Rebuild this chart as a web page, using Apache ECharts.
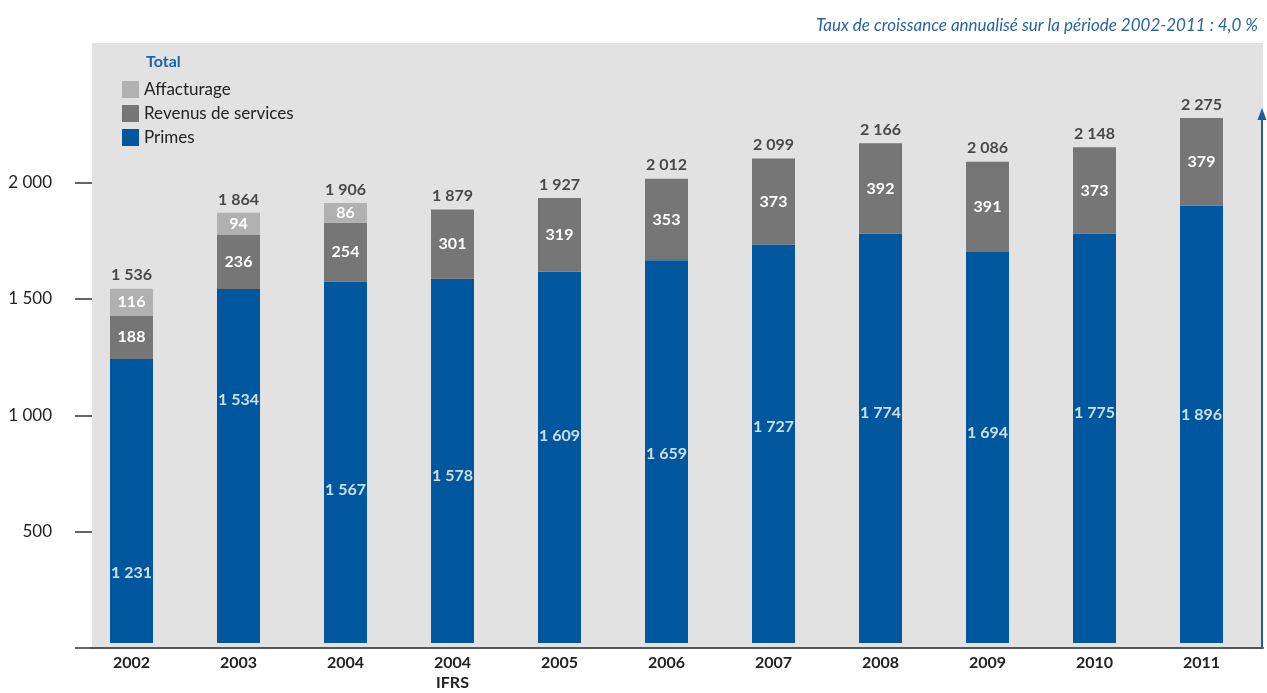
<!DOCTYPE html>
<html>
<head>
<meta charset="utf-8">
<script src="https://cdn.jsdelivr.net/npm/echarts@6/dist/echarts.min.js"></script>
<style>
html,body{margin:0;padding:0;background:#fff;}
#c{width:1267px;height:693px;}
</style>
</head>
<body>
<div id="c"></div>
<script>
const categories = ['2002','2003','2004','2004\nIFRS','2005','2006','2007','2008','2009','2010','2011'];
const primes = [1231,1534,1567,1578,1609,1659,1727,1774,1694,1775,1896];
const revenus = [188,236,254,301,319,353,373,392,391,373,379];
const affacturage = [116,94,86,null,null,null,null,null,null,null,null];
const totals = [1536,1864,1906,1879,1927,2012,2099,2166,2086,2148,2275];
// value at which the white "Primes" label is placed inside each blue bar
const primesLabelAt = [305,1052,663,726,897,820,936,996,910,996,988];
const yTicks = [0,500,1000,1500,2000];
const yLabels = [500,1000,1500,2000];

const FONT = 'Lato';
const fmt = v => String(v).replace(/\B(?=(\d{3})+(?!\d))/g, ' ');

const chart = echarts.init(document.getElementById('c'));
const option = {
  animation: false,
  textStyle: {fontFamily: FONT},
  title: {
    text: 'Taux de croissance annualisé sur la période 2002-2011 : 4,0 %',
    right: 4, top: 12,
    textStyle: {fontFamily: FONT, fontStyle: 'italic', fontWeight: 'normal', fontSize: 17, color: '#2a64a0'}
  },
  legend: {
    orient: 'vertical', left: 117, top: 76,
    itemWidth: 17, itemHeight: 17, itemGap: 7,
    icon: 'rect',
    data: ['Affacturage','Revenus de services','Primes'],
    textStyle: {fontFamily: FONT, fontSize: 17, color: '#222'}
  },
  grid: [
    {left: 92, right: 4, top: 43, bottom: 45, show: true, backgroundColor: '#e2e2e2', borderWidth: 0},
    {left: 78, right: 12, top: 43, bottom: 45}
  ],
  xAxis: [
    {type: 'category', gridIndex: 0, data: categories, axisLabel: {show: false}, axisTick: {show: false},
     axisLine: {lineStyle: {color: '#555', width: 2}}},
    {type: 'category', gridIndex: 1, data: categories, axisLine: {show: false}, axisTick: {show: false},
     axisLabel: {margin: 10, fontFamily: FONT, fontSize: 16, fontWeight: 'bold', color: '#222', lineHeight: 20}}
  ],
  yAxis: [
    {type: 'value', gridIndex: 0, min: 0, max: 2600, interval: 500,
     splitLine: {show: false}, axisLine: {show: false},
     axisTick: {show: true, length: 17, customValues: yTicks, lineStyle: {color: '#333', width: 1.5}},
     axisLabel: {margin: 40, fontFamily: FONT, fontSize: 17, color: '#222', customValues: yLabels,
       formatter: v => (yLabels.indexOf(v) >= 0 ? fmt(v) : '')}},
    {type: 'value', gridIndex: 1, min: 0, max: 2600, show: false, splitLine: {show: false}}
  ],
  graphic: [
    {type: 'text', left: 146, top: 54, style: {text: 'Total', fontFamily: FONT, fontSize: 16, fontWeight: 'bold', fill: '#1a64a8'}},
    {type: 'line', shape: {x1: 1262, y1: 648, x2: 1262, y2: 114}, style: {stroke: '#1e5c9b', lineWidth: 2}},
    {type: 'polygon', shape: {points: [[1262, 108], [1257.5, 120], [1266.5, 120]]}, style: {fill: '#1e5c9b'}}
  ],
  series: [
    {name: 'Primes', type: 'bar', stack: 's', xAxisIndex: 1, yAxisIndex: 1, barWidth: 43,
     data: primes, itemStyle: {color: '#00579d'}},
    {name: 'Revenus de services', type: 'bar', stack: 's', xAxisIndex: 1, yAxisIndex: 1, barWidth: 43,
     data: revenus, itemStyle: {color: '#767676'},
     label: {show: true, position: 'inside', fontFamily: FONT, fontSize: 16, fontWeight: 'bold', color: '#fff',
       formatter: p => fmt(p.value)}},
    {name: 'Affacturage', type: 'bar', stack: 's', xAxisIndex: 1, yAxisIndex: 1, barWidth: 43,
     data: affacturage, itemStyle: {color: '#b1b1b1'},
     label: {show: true, position: 'inside', fontFamily: FONT, fontSize: 16, fontWeight: 'bold', color: '#fff',
       formatter: p => fmt(p.value)}},
    {name: 'primesLabels', type: 'scatter', xAxisIndex: 1, yAxisIndex: 1, symbolSize: 1,
     itemStyle: {color: 'transparent'}, silent: true,
     data: primesLabelAt.map((v, i) => [i, v]),
     label: {show: true, position: 'inside', fontFamily: FONT, fontSize: 16, fontWeight: 'bold', color: '#fff',
       formatter: p => fmt(primes[p.dataIndex])}},
    {name: 'totals', type: 'scatter', xAxisIndex: 1, yAxisIndex: 1, symbolSize: 1,
     itemStyle: {color: 'transparent'}, silent: true,
     data: totals.map((v, i) => [i, v]),
     label: {show: true, position: 'top', distance: 5, fontFamily: FONT, fontSize: 16, fontWeight: 'bold', color: '#222',
       formatter: p => fmt(totals[p.dataIndex])}}
  ]
};
chart.setOption(option);
</script>
</body>
</html>
